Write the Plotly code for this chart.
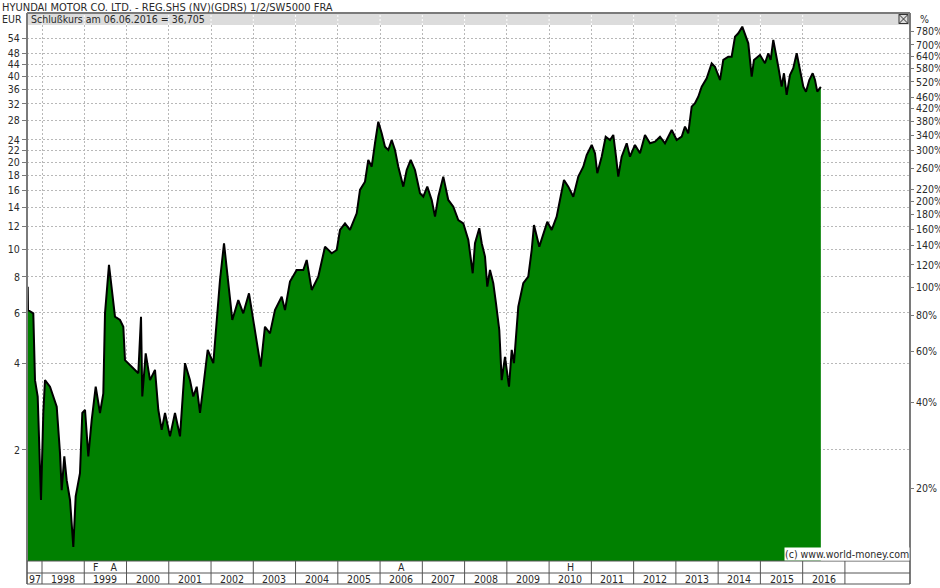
import math
import plotly.graph_objects as go

# ---------------- data ----------------
title_text = "HYUNDAI MOTOR CO. LTD. - REG.SHS (NV)(GDRS) 1/2/SW5000 FRA"
info_text = "Schlußkurs am 06.06.2016 = 36,705"
currency = "EUR"
copyright_text = "(c) www.world-money.com"

# time in decimal years
t = [1997.662, 1997.669, 1997.794, 1997.834, 1997.898, 1997.953, 1997.976, 1998.031, 1998.071, 1998.189,
     1998.348, 1998.426, 1998.466, 1998.528, 1998.584, 1998.663, 1998.741, 1998.797, 1998.899, 1998.954,
     1999.018, 1999.096, 1999.176, 1999.271, 1999.372, 1999.451, 1999.491, 1999.585, 1999.649, 1999.727,
     1999.846, 1999.924, 1999.964, 2000.123, 2000.279, 2000.343, 2000.373, 2000.454, 2000.556, 2000.674,
     2000.752, 2000.832, 2000.911, 2001.029, 2001.147, 2001.266, 2001.384, 2001.502, 2001.580, 2001.661,
     2001.739, 2001.817, 2001.921, 2002.054, 2002.134, 2002.212, 2002.307, 2002.408, 2002.503, 2002.645,
     2002.763, 2002.898, 2003.000, 2003.040, 2003.175, 2003.276, 2003.395, 2003.513, 2003.672, 2003.750,
     2003.868, 2004.027, 2004.183, 2004.264, 2004.382, 2004.538, 2004.697, 2004.855, 2004.974, 2005.052,
     2005.170, 2005.288, 2005.447, 2005.525, 2005.643, 2005.721, 2005.802, 2005.880, 2005.958, 2006.038,
     2006.116, 2006.195, 2006.275, 2006.353, 2006.431, 2006.550, 2006.630, 2006.725, 2006.826, 2006.945,
     2007.023, 2007.117, 2007.222, 2007.300, 2007.378, 2007.496, 2007.614, 2007.733, 2007.851, 2007.969,
     2008.088, 2008.192, 2008.246, 2008.348, 2008.405, 2008.483, 2008.537, 2008.601, 2008.679, 2008.743,
     2008.821, 2008.878, 2008.956, 2009.051, 2009.115, 2009.169, 2009.271, 2009.389, 2009.507, 2009.588,
     2009.642, 2009.768, 2009.862, 2009.957, 2010.061, 2010.179, 2010.257, 2010.352, 2010.454, 2010.572,
     2010.691, 2010.809, 2010.889, 2011.008, 2011.086, 2011.140, 2011.244, 2011.339, 2011.441, 2011.519,
     2011.583, 2011.637, 2011.717, 2011.836, 2011.914, 2012.032, 2012.151, 2012.269, 2012.387, 2012.506,
     2012.624, 2012.742, 2012.901, 2013.019, 2013.137, 2013.215, 2013.293, 2013.374, 2013.452, 2013.530,
     2013.611, 2013.729, 2013.847, 2013.925, 2014.044, 2014.122, 2014.240, 2014.320, 2014.399, 2014.477,
     2014.571, 2014.635, 2014.713, 2014.794, 2014.848, 2014.990, 2015.108, 2015.187, 2015.243, 2015.305,
     2015.369, 2015.423, 2015.503, 2015.558, 2015.621, 2015.700, 2015.778, 2015.859, 2015.937, 2016.015,
     2016.079, 2016.157, 2016.237, 2016.292, 2016.346, 2016.430]

# closing price in EUR
price = [7.40, 6.14, 5.98, 3.50, 3.07, 1.80, 1.34, 2.69, 3.50, 3.32,
         2.83, 1.95, 1.45, 1.90, 1.57, 1.34, 0.92, 1.38, 1.66, 2.69,
         2.76, 1.90, 2.54, 3.32, 2.69, 3.15, 5.98, 8.81, 7.21, 5.82,
         5.67, 5.37, 4.11, 3.90, 3.70, 5.82, 3.07, 4.34, 3.50, 3.80,
         2.76, 2.35, 2.69, 2.23, 2.69, 2.23, 4.01, 3.50, 3.07, 3.32,
         2.69, 3.32, 4.46, 4.01, 5.82, 7.81, 10.48, 7.81, 5.67, 6.65,
         5.98, 7.02, 5.67, 5.09, 3.90, 5.37, 5.09, 6.14, 6.83, 6.14,
         7.71, 8.46, 8.46, 9.17, 7.21, 8.02, 10.20, 9.67, 9.93, 11.66,
         12.30, 11.66, 13.33, 16.07, 17.17, 20.43, 19.36, 23.36, 27.76, 25.30,
         22.72, 22.13, 23.98, 22.13, 19.36, 16.50, 18.86, 20.43, 18.86, 15.65,
         15.22, 16.50, 14.83, 12.97, 15.22, 17.88, 14.83, 14.05, 12.63, 12.30,
         10.76, 8.24, 10.48, 11.82, 10.48, 9.42, 7.40, 8.46, 7.61, 6.48,
         5.23, 3.50, 4.22, 3.32, 4.46, 4.01, 6.31, 7.61, 8.02, 9.93,
         12.13, 10.20, 11.35, 12.46, 11.66, 12.97, 14.83, 17.40, 16.50, 15.22,
         17.88, 19.36, 21.26, 23.04, 21.56, 18.37, 20.98, 24.62, 23.98, 24.97,
         20.98, 17.88, 20.98, 23.36, 20.98, 23.04, 21.56, 24.97, 23.36, 23.66,
         24.62, 23.36, 25.98, 23.98, 24.62, 26.68, 25.30, 31.32, 32.18, 33.92,
         36.76, 39.32, 44.34, 43.14, 38.78, 45.54, 46.76, 46.76, 54.88, 56.38,
         59.46, 56.38, 52.04, 39.84, 45.54, 47.38, 44.34, 48.04, 45.54, 53.44,
         48.04, 43.14, 36.76, 40.92, 34.40, 40.36, 42.60, 48.04, 42.02, 36.76,
         35.32, 38.78, 40.92, 38.78, 35.32, 36.705]

base_price = 7.34  # 100 % reference level

left_ticks = [2, 4, 6, 8, 10, 12, 14, 16, 18, 20, 22, 24, 28, 32, 36, 40, 44, 48, 54]
right_ticks = [20, 40, 60, 80, 100, 120, 140, 160, 180, 200, 220, 260, 300, 340,
               380, 420, 460, 520, 580, 640, 700, 780]
year_labels = list(range(1998, 2017))
year_bounds = list(range(1998, 2018))
grid_years = list(range(1998, 2017))
events = {1999: "F    A", 2006: "A", 2010: "H"}

# ---------------- layout constants ----------------
W, H = 940, 588
ML, MR, MT, MB = 27, 30, 25, 27
PW, PH = W - ML - MR, H - MT - MB
x_range = [1997.645, 2018.54]
y_range = [-0.0853, 1.7800]
shift = math.log10(100.0 / base_price)
y2_range = [y_range[0] + shift, y_range[1] + shift]

FONT = "Liberation Sans Narrow, Arial Narrow, DejaVu Sans Condensed, Liberation Sans, Arial"
TXT = "#2a2a2a"
FRAME = "#7a7a7a"
GRID = "#b8b8b8"


def px(tv):
    return (tv - x_range[0]) / (x_range[1] - x_range[0])


def py(pix):  # pixels above (+) / below (-) plot area edge -> paper
    return pix / PH


fig = go.Figure()
fig.add_trace(go.Scatter(
    x=t, y=price, mode="lines", fill="tozeroy", fillcolor="#008000",
    line=dict(color="#000000", width=2), hoverinfo="x+y", showlegend=False))
fig.add_trace(go.Scatter(
    x=t, y=[p / base_price * 100 for p in price], yaxis="y2", mode="lines",
    line=dict(width=0, color="rgba(0,0,0,0)"), hoverinfo="skip", showlegend=False))

shapes = []
top = 1 + py(12)
bot = -py(23)
mid = -py(12)
# header band
shapes.append(dict(type="rect", xref="paper", yref="paper", x0=0, x1=1, y0=1, y1=top,
                   fillcolor="#dcdcdc", line=dict(width=0), layer="below"))
for gy in grid_years:
    shapes.append(dict(type="line", xref="paper", yref="paper", x0=px(gy), x1=px(gy), y0=1, y1=top,
                       line=dict(color="#ffffff", width=1, dash="2px,2px"), layer="below"))
shapes.append(dict(type="line", xref="paper", yref="paper", x0=0, x1=1, y0=top, y1=top,
                   line=dict(color=FRAME, width=2)))
# frame verticals
for xx in (0, 1):
    shapes.append(dict(type="line", xref="paper", yref="paper", x0=xx, x1=xx, y0=bot, y1=top,
                       line=dict(color=FRAME, width=2)))
# table horizontals
for yy in (0, mid, bot):
    shapes.append(dict(type="line", xref="paper", yref="paper", x0=0, x1=1, y0=yy, y1=yy,
                       line=dict(color="#555555", width=1)))
# table verticals
for yb in year_bounds:
    shapes.append(dict(type="line", xref="paper", yref="paper", x0=px(yb), x1=px(yb), y0=bot, y1=0,
                       line=dict(color="#555555", width=1)))
# close icon
ix0, ix1 = 1 - 11 / PW, 1 - 2 / PW
iy0, iy1 = 1 + py(1.5), 1 + py(10.5)
shapes.append(dict(type="rect", xref="paper", yref="paper", x0=ix0, x1=ix1, y0=iy0, y1=iy1,
                   line=dict(color="#333333", width=1)))
shapes.append(dict(type="line", xref="paper", yref="paper", x0=ix0, x1=ix1, y0=iy0, y1=iy1,
                   line=dict(color="#333333", width=1)))
shapes.append(dict(type="line", xref="paper", yref="paper", x0=ix0, x1=ix1, y0=iy1, y1=iy0,
                   line=dict(color="#333333", width=1)))

ann = []
fs = 10.5
for yl in year_labels:
    ann.append(dict(x=px(yl + 0.5), y=-py(17.5), xref="paper", yref="paper", text=str(yl),
                    showarrow=False, xanchor="center", yanchor="middle",
                    font=dict(family=FONT, size=fs, color=TXT)))
ann.append(dict(x=px((x_range[0] + 1998) / 2), y=-py(17.5), xref="paper", yref="paper", text="97",
                showarrow=False, xanchor="center", yanchor="middle",
                font=dict(family=FONT, size=fs, color=TXT)))
for ey, et in events.items():
    ann.append(dict(x=px(ey + 0.5), y=-py(6), xref="paper", yref="paper", text=et,
                    showarrow=False, xanchor="center", yanchor="middle",
                    font=dict(family=FONT, size=fs, color=TXT)))
ann.append(dict(x=0, y=1 + py(6), xref="paper", yref="paper", text=currency, xshift=-3,
                showarrow=False, xanchor="right", yanchor="middle",
                font=dict(family=FONT, size=fs, color=TXT)))
ann.append(dict(x=0, y=1 + py(6), xref="paper", yref="paper", text=info_text, xshift=2,
                showarrow=False, xanchor="left", yanchor="middle",
                font=dict(family=FONT, size=fs, color=TXT)))
ann.append(dict(x=1, y=1 + py(6), xref="paper", yref="paper", text="%", xshift=8,
                showarrow=False, xanchor="left", yanchor="middle",
                font=dict(family=FONT, size=fs, color=TXT)))
ann.append(dict(x=1, y=0, xref="paper", yref="paper", text=copyright_text,
                showarrow=False, xanchor="right", yanchor="bottom", bgcolor="#ffffff",
                borderpad=0, font=dict(family=FONT, size=fs, color=TXT)))

fig.update_layout(
    width=W, height=H, autosize=False,
    margin=dict(l=ML, r=MR, t=MT, b=MB, pad=0, autoexpand=False),
    paper_bgcolor="#ffffff", plot_bgcolor="#ffffff",
    title=dict(text=title_text, x=2 / W, xanchor="left", y=1 - 7 / H, yanchor="middle",
               font=dict(family=FONT, size=11, color=TXT), automargin=False),
    showlegend=False,
    xaxis=dict(range=x_range, tickvals=grid_years, showticklabels=False, ticks="",
               showgrid=True, gridcolor=GRID, griddash="2px,2px", gridwidth=1,
               zeroline=False, showline=False, fixedrange=True, automargin=False),
    yaxis=dict(type="log", range=y_range, tickvals=left_ticks, ticktext=[str(v) for v in left_ticks],
               ticks="outside", ticklen=4, tickcolor=FRAME, tickwidth=1,
               showgrid=True, gridcolor=GRID, griddash="2px,2px", gridwidth=1,
               zeroline=False, showline=False, automargin=False,
               tickfont=dict(family=FONT, size=fs, color=TXT)),
    yaxis2=dict(type="log", range=y2_range, overlaying="y", side="right",
                tickvals=right_ticks, ticktext=[f"{v}%" for v in right_ticks],
                ticks="outside", ticklen=3, tickcolor=FRAME, tickwidth=1,
                showgrid=False, zeroline=False, showline=False, automargin=False,
                tickfont=dict(family=FONT, size=fs, color=TXT)),
    shapes=shapes, annotations=ann,
)

fig.write_html("out.html", config={"displayModeBar": False},
               post_script="document.body.style.margin='0';document.body.style.overflow='hidden';")
